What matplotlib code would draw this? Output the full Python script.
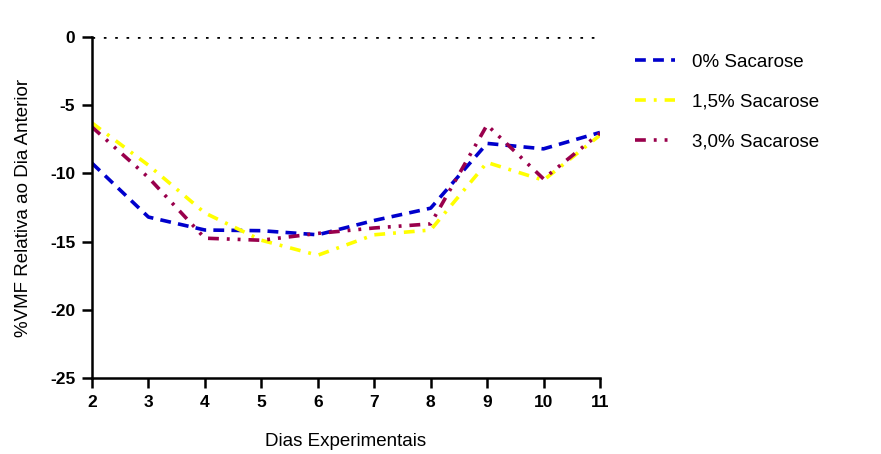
import matplotlib
matplotlib.use("Agg")
import matplotlib.pyplot as plt

plt.rcParams['font.family'] = ['Liberation Sans', 'DejaVu Sans']

days = [2, 3, 4, 5, 6, 7, 8, 9, 10, 11]
sac_0 = [-9.25, -13.2, -14.15, -14.2, -14.5, -13.45, -12.55, -7.8, -8.2, -7.0]
sac_15 = [-6.3, -9.4, -12.9, -14.9, -16.0, -14.5, -14.15, -9.2, -10.5, -7.2]
sac_30 = [-6.6, -10.3, -14.75, -14.9, -14.4, -14.0, -13.7, -6.45, -10.4, -7.05]
labels = ['0% Sacarose', '1,5% Sacarose', '3,0% Sacarose']
yticks = [0, -5, -10, -15, -20, -25]

fig = plt.figure(figsize=(8.81, 4.54), dpi=100)
ax = fig.add_axes([0.1044, 0.1674, 0.5766, 0.7511])

ax.plot([days[0], days[-1]], [0, 0], color='black', lw=1.9, linestyle=(0, (1, 3.3)),
        zorder=1)

l0, = ax.plot(days, sac_0, color='#0000CC', lw=2.6, linestyle=(0, (3, 2)),
              label=labels[0])
l1, = ax.plot(days, sac_15, color='#FFFF00', lw=2.6, linestyle=(0, (3, 2.2, 0.8, 2.2)),
              label=labels[1])
l2, = ax.plot(days, sac_30, color='#99004C', lw=2.6,
              linestyle=(0, (3, 2.2, 0.8, 2.2, 0.8, 2.2)), label=labels[2])

ax.set_xlim(2, 11)
ax.set_ylim(-25, 0)
ax.set_xticks(days)
ax.set_yticks(yticks)
ax.set_xticklabels([str(d) for d in days], fontsize=12.5, fontweight='bold')
ax.set_yticklabels([str(t) for t in yticks], fontsize=12.5, fontweight='bold')

for s in ['top', 'right']:
    ax.spines[s].set_visible(False)
for s in ['left', 'bottom']:
    ax.spines[s].set_linewidth(1.8)
ax.tick_params(axis='both', direction='out', length=7, width=1.8, pad=5)

ax.set_xlabel('Dias Experimentais', fontsize=13.5, labelpad=17)
ax.set_ylabel('%VMF Relativa ao Dia Anterior', fontsize=13.5, labelpad=13)

leg = ax.legend(handles=[l0, l1, l2], loc='upper left', bbox_to_anchor=(1.036, 1.0),
                frameon=False, fontsize=13.5, handlelength=2.13, handletextpad=0.9,
                labelspacing=1.2)

fig.savefig('out.png', dpi=100)
